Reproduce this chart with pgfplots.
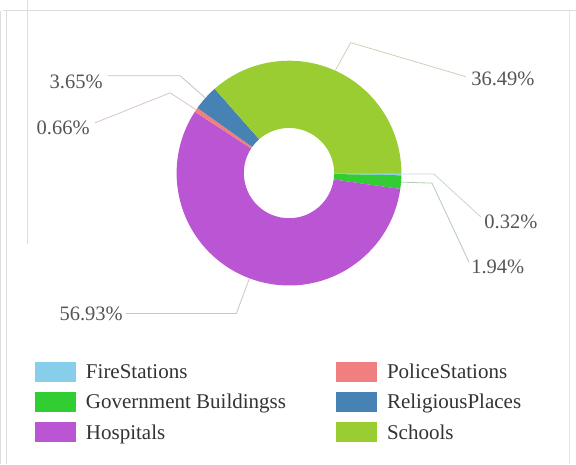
\documentclass[border=0pt]{standalone}
\usepackage{pgfplots}
\pgfplotsset{compat=1.18}
\usepackage{pgfplotstable}
\usetikzlibrary{calc}
\usepackage{fontspec}
\setmainfont{Liberation Serif}

\definecolor{cFire}{HTML}{87CEEB}
\definecolor{cGov}{HTML}{32CD32}
\definecolor{cHosp}{HTML}{BA55D3}
\definecolor{cPol}{HTML}{F08080}
\definecolor{cRel}{HTML}{4682B4}
\definecolor{cSch}{HTML}{9ACD32}
\definecolor{lbl}{HTML}{555555}
\definecolor{leg}{HTML}{333333}
\definecolor{frame}{HTML}{DDDDDD}

\pgfplotstableread{
name value col
FireStations 0.32 cFire
GovernmentBuildingss 1.94 cGov
Hospitals 56.93 cHosp
PoliceStations 0.66 cPol
ReligiousPlaces 3.65 cRel
Schools 36.49 cSch
}\donutdata

\begin{document}
\begin{tikzpicture}
\begin{axis}[hide axis, x=1bp, y=1bp, xmin=0, xmax=576, ymin=0, ymax=462,
  scale only axis, anchor=south west, at={(0,0)}, clip=false]
% frame of the screenshot
\draw[frame, line width=1bp] (axis cs:5,452) -- (axis cs:576,452);
\draw[frame, line width=1bp] (axis cs:30,462) -- (axis cs:30,219);
\draw[frame, line width=1bp] (axis cs:3,452) -- (axis cs:3,0);
\draw[frame, line width=1bp] (axis cs:9,452) -- (axis cs:9,0);
\draw[frame!70, line width=0.8bp] (axis cs:570,452) -- (axis cs:570,0);
% donut slices
\def\cum{0}
\pgfplotsforeachungrouped \i in {0,...,5}{%
  \pgfplotstablegetelem{\i}{value}\of\donutdata
  \let\sliceval=\pgfplotsretval
  \pgfplotstablegetelem{\i}{col}\of\donutdata
  \let\slicecol=\pgfplotsretval
  \pgfmathsetmacro\angA{-3.6*\cum}
  \pgfmathsetmacro\angB{-3.6*(\cum+\sliceval)}
  \pgfmathsetmacro\cum{\cum+\sliceval}
  \edef\temp{\noexpand\fill[fill=\slicecol] ($(axis cs:290.5,290)+(\angA:112bp)$) arc[start angle=\angA, end angle=\angB, radius=112bp] -- ($(axis cs:290.5,290)+(\angB:45bp)$) arc[start angle=\angB, end angle=\angA, radius=45bp] -- cycle;}%
  \temp
}
% leader lines
\draw[cSch!35!gray!45, line width=0.8bp] (axis cs:336.5,392.1) -- (axis cs:352,420) -- (axis cs:467,386);
\draw[cFire!40!gray!45, line width=0.8bp] (axis cs:402.5,289) -- (axis cs:435,289) -- (axis cs:482,246);
\draw[cGov!30!gray!50, line width=0.8bp] (axis cs:402,281) -- (axis cs:433,280) -- (axis cs:470,201);
\draw[cHosp!35!gray!45, line width=0.8bp] (axis cs:251,185) -- (axis cs:238,150) -- (axis cs:128,150);
\draw[cPol!40!gray!45, line width=0.8bp] (axis cs:198,353) -- (axis cs:172,370) -- (axis cs:97,340);
\draw[cRel!35!gray!45, line width=0.8bp] (axis cs:207,365) -- (axis cs:182,387) -- (axis cs:110,387);
% labels
\begin{scope}[every node/.style={inner sep=0pt, text=lbl, font=\fontsize{20.5}{24}\selectfont}]
\node[anchor=base west] at (axis cs:472,377) {36.49\%};
\node[anchor=base west] at (axis cs:485,235) {0.32\%};
\node[anchor=base west] at (axis cs:472,190) {1.94\%};
\node[anchor=base east] at (axis cs:125,143) {56.93\%};
\node[anchor=base east] at (axis cs:92,328) {0.66\%};
\node[anchor=base east] at (axis cs:105,374) {3.65\%};
\end{scope}
% legend
\fill[cFire] (axis cs:37,82) rectangle (axis cs:78,102);
\fill[cGov] (axis cs:37,52) rectangle (axis cs:78,72);
\fill[cHosp] (axis cs:37,22) rectangle (axis cs:78,42);
\fill[cPol] (axis cs:337,82) rectangle (axis cs:378,102);
\fill[cRel] (axis cs:337,52) rectangle (axis cs:378,72);
\fill[cSch] (axis cs:337,22) rectangle (axis cs:378,42);
\begin{scope}[every node/.style={inner sep=0pt, anchor=base west, text=leg, font=\fontsize{21}{25}\selectfont}]
\node at (axis cs:88,85) {FireStations};
\node at (axis cs:88,55) {Government Buildingss};
\node at (axis cs:88,25) {Hospitals};
\node at (axis cs:388,85) {PoliceStations};
\node at (axis cs:388,55) {ReligiousPlaces};
\node at (axis cs:388,25) {Schools};
\end{scope}
\end{axis}
\end{tikzpicture}
\end{document}
